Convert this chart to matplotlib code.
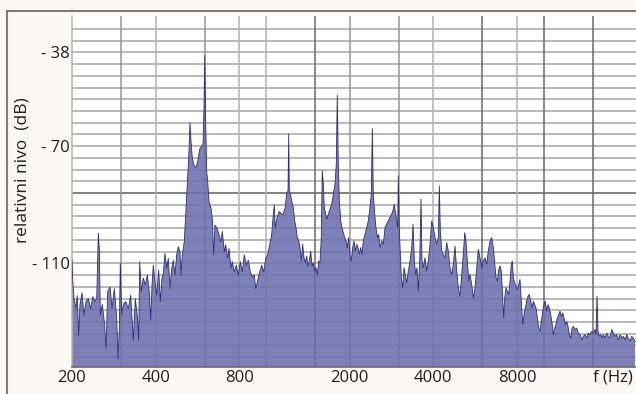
import matplotlib
matplotlib.use("Agg")
import matplotlib.pyplot as plt
from matplotlib.patches import Rectangle

plt.rcParams['font.family'] = ['Open Sans', 'DejaVu Sans']

# ---- data (frequency in Hz, level in dB) ----
freq_low = [200, 201, 203.3, 206.7, 209, 211.4, 213.7, 217.3, 220.9, 224.6, 228.9, 233.6, 237.5,
            241.5, 245.5, 248.8, 250.9, 253, 257.1, 261.5, 265.2, 268.9, 274.1, 278.7, 284.1,
            289.8, 292.9, 296.1, 298.5, 302, 306, 312.2, 319, 325.4, 332.5, 338, 343.7, 347.7,
            350.6, 355.3, 361.2, 367.2, 373.4, 379.6, 384.1, 388.3, 392.5, 398, 403.7, 410.4,
            415.9, 421.8, 426.4, 432.4, 438.5, 444.4, 450.7, 457.1, 463.2, 469.8, 476.4, 482.8,
            489.6]
db_low = [-108.9, -115, -122, -125.4, -121, -134.6, -124, -120, -127.7, -123, -122, -125.4, -121.4,
          -123, -122, -99.7, -105.4, -127.7, -124, -130, -139, -119.7, -118, -125.4, -118.6,
          -128.9, -142.6, -132.3, -110, -127.7, -124, -123, -125.4, -120.9, -136.3, -122, -127.7,
          -136.3, -109.4, -119.7, -115, -117.4, -114, -119.7, -129.4, -117.4, -110.6, -116.3,
          -120.9, -112.3, -123, -115, -113.4, -106.6, -111.7, -108.3, -118.6, -111.7, -108.9,
          -114, -107.1, -104.3, -106]

freq_mid1 = [493.7, 499.1, 507.4, 513.4, 522, 527.6, 532, 536.4, 542.2, 551.3, 559.1, 567.1, 576.6,
             586.2, 592.6, 597.5, 601, 606, 611, 616.1, 622.8, 633.2, 640, 647.5, 654.5, 665.5,
             676.6, 688, 695.4, 707, 715.3, 727.2, 735.2, 747.5, 755.6, 768.2, 781, 794, 807.3,
             820.8, 834.6, 848.5, 862.7, 877.1, 891.8, 906.7, 917.3, 932.6, 948.2, 964.1, 980.2,
             996.6, 1013, 1030, 1047, 1061, 1070, 1079, 1094, 1113, 1131, 1150, 1170]
db_mid1 = [-114, -107.1, -102.6, -93.4, -79.7, -71.7, -62, -68.3, -74, -76.9, -77.4, -75.1, -71.1,
           -70, -69.4, -56.9, -39.1, -62.6, -78.6, -82, -88.9, -91.1, -94.6, -107.1, -96.9, -98,
           -100.3, -102.6, -99.1, -106, -103.7, -108.3, -104.9, -111.7, -109.4, -112.9, -110.6,
           -114, -109.4, -112.9, -107.1, -110.6, -108.9, -112.9, -114.6, -114, -118.6, -115.7,
           -112.9, -110.6, -112.9, -108.3, -107.1, -103.7, -100.3, -93.4, -90, -98, -94.6, -92.3,
           -92.9, -93.4, -91.1]

freq_mid2 = [1186, 1199, 1206, 1212, 1226, 1239, 1253, 1267.5, 1281, 1295, 1310, 1324.5, 1338.7,
             1354, 1369, 1384, 1400, 1415, 1430.6, 1447, 1463, 1479, 1496, 1512, 1529, 1547, 1563,
             1580, 1593, 1607, 1620, 1639, 1657, 1675, 1698, 1723, 1746, 1770, 1789.5, 1804, 1819,
             1834.5, 1856, 1876, 1896, 1918.6, 1939, 1960, 1983, 2005, 2026.5, 2050, 2072, 2095,
             2119, 2142, 2165.5, 2191, 2214.5, 2238.5, 2270, 2302.5, 2333, 2366, 2392, 2412, 2432,
             2460, 2487, 2514, 2543, 2571, 2607, 2642, 2680, 2718, 2754, 2793]
db_mid2 = [-86.3, -85.2, -65.8, -85.2, -86.9, -89.2, -90.9, -95.5, -97.8, -101.2, -102.3, -104.6,
           -109.2, -103.5, -108.1, -109.8, -107.5, -110.9, -109.2, -105.8, -110.9, -109.8, -112.6,
           -111.5, -113.8, -109.2, -109.8, -101.2, -78.3, -82.9, -90.9, -93.2, -94.9, -93.2, -91.5,
           -89.8, -86.3, -82.9, -76, -52.6, -76, -88.6, -95.5, -97.8, -99.5, -101.2, -102.3,
           -104.6, -101.2, -106.9, -109.2, -104.6, -102.3, -105.8, -103.5, -104.6, -106.9, -104.6,
           -106.9, -102.3, -100.1, -97.8, -95.5, -90.9, -86.3, -64, -86.3, -93.2, -97.8, -101.2,
           -100.1, -104.6, -102.3, -103.5, -97.8, -96.6, -95.5, -94.3]

freq_high1 = [2833, 2871, 2894, 2928, 2960, 2977, 2992, 3017, 3042, 3068, 3103, 3137, 3171, 3208,
              3251, 3297, 3344, 3380, 3417, 3457, 3494, 3532, 3573, 3612, 3642, 3681, 3733, 3787,
              3837, 3891, 3947, 4000, 4056, 4114, 4169, 4204, 4239, 4288, 4345, 4407, 4469, 4529,
              4594, 4659, 4721, 4788, 4856, 4921, 4991, 5061, 5129, 5189, 5245, 5302, 5364, 5422,
              5499, 5572, 5652, 5732, 5809, 5891, 5975, 6054, 6140, 6227, 6310, 6400, 6491, 6577]
db_high1 = [-93.2, -91.5, -89.8, -93.2, -96.6, -97.8, -80.1, -97.8, -106.9, -114.9, -118.3, -111.5,
            -113.8, -116.6, -112.6, -109.2, -104.6, -96.6, -109.2, -113.8, -111.5, -119.5, -109.2,
            -88.1, -109.2, -111.5, -108.1, -112.6, -109.2, -103.5, -95.5, -97.8, -101.2, -103.5,
            -101.2, -83.5, -98.9, -105.8, -106.9, -108.1, -102.9, -105.8, -111.5, -113.8, -110.3,
            -104.1, -112.6, -118.3, -121.2, -113.8, -106.9, -99.5, -102.3, -109.2, -116, -113.8,
            -117.2, -121.8, -118.3, -111.5, -105.2, -108.1, -111.5, -109.2, -108.1, -110.3,
            -105.8, -102.3, -101.2, -104.6]

freq_high2 = [6654, 6726, 6799, 6879, 6953, 7028, 7110, 7170, 7230, 7308, 7387, 7473, 7555, 7636,
              7700, 7764, 7855, 7940, 8026, 8120, 8207, 8296, 8393, 8484, 8576, 8676, 8770, 8866,
              8969, 9066, 9164, 9271, 9371, 9474, 9584, 9688, 9792, 9907, 10015, 10123, 10241,
              10352, 10465, 10587, 10701, 10817, 10944, 11062, 11182, 11313, 11436, 11558, 11694,
              11821, 11949, 12088, 12219, 12352, 12495, 12631, 12768, 12950, 13133, 13308, 13498,
              13690, 13871, 14068, 14268, 14459, 14665, 14872, 15071, 15284, 15412, 15541, 15671,
              15839, 16026, 16198, 16373, 16607, 16842, 17067, 17309, 17555, 17789, 18042, 18298,
              18542, 18806, 19072, 19327, 19601, 19880, 20146, 20432, 20721, 20998, 21297]
db_high2 = [-109.8, -114.9, -116.1, -112.1, -110.9, -112.6, -121.8, -128.6, -121.8, -118.3, -119.5,
            -120.6, -116.1, -110.3, -109.2, -114.9, -116.6, -117.8, -118.9, -117.2, -115.5, -122.9,
            -130.9, -127.5, -125.2, -122.9, -121.2, -120.6, -122.9, -125.2, -122.9, -124.1, -125.2,
            -128.6, -132.1, -133.2, -129.8, -126.3, -124.1, -122.9, -126.3, -124.1, -125.2, -127.5,
            -130.3, -134.3, -132.1, -130.9, -128.6, -127.5, -126.3, -128.1, -126.9, -128.6, -130.9,
            -129.8, -131.5, -134.3, -135.5, -132.1, -131.5, -132.6, -132.1, -133.8, -134.3, -136.1,
            -134.9, -134.3, -135.5, -133.8, -134.3, -133.2, -133.8, -132.6, -134.3, -121.2, -133.2,
            -134.9, -134.3, -135.5, -134.3, -135.5, -133.8, -134.9, -135.5, -132.6, -133.8, -134.9,
            -134.3, -136.1, -134.3, -135.5, -134.9, -136.1, -134.3, -135.5, -136.6, -134.9, -135.5,
            -136.6]

x_ticks = [200, 400, 800, 2000, 4000, 8000]
x_tick_labels = ["200", "400", "800", "2000", "4000", "8000"]
y_ticks = [-38, -70, -110]
y_tick_labels = ["- 38", "- 70", "- 110"]
x_grid_light = [400, 800, 1000, 4000, 8000]
x_grid_mid = [300, 600, 2000, 3000]
x_grid_dark = [1500, 6000, 10000, 15000]
y_grid = list(range(-30, -143, -4))
y_grid_dark = [-86]

freq = freq_low + freq_mid1 + freq_mid2 + freq_high1 + freq_high2
db = db_low + db_mid1 + db_mid2 + db_high1 + db_high2

W, H = 636, 394
fig = plt.figure(figsize=(W / 100, H / 100), dpi=100)
fig.patch.set_facecolor('#fcf9f4')

ax = fig.add_axes([72 / W, 27.5 / H, (W - 72) / W, 351 / H])
ax.set_facecolor('white')
ax.set_xscale('log')
ax.set_xlim(200, 21470)
ax.set_ylim(-145.2, -25.4)

for yv in y_grid:
    c = '#5e5e5e' if yv in y_grid_dark else '#a5a5a5'
    ax.axhline(yv, color=c, lw=1.1, zorder=1)
for xv in x_grid_light:
    ax.axvline(xv, color='#b4b4b4', lw=1.1, zorder=1)
for xv in x_grid_mid:
    ax.axvline(xv, color='#969696', lw=1.1, zorder=1)
for xv in x_grid_dark:
    ax.axvline(xv, color='#6a6a6a', lw=1.1, zorder=1)

ax.fill_between(freq, db, -200, color='#6c6eae', alpha=0.88, lw=0, zorder=2)
ax.plot(freq, db, color='#2c2e7c', lw=0.6, zorder=3)

for s in ['top', 'right']:
    ax.spines[s].set_visible(False)
ax.spines['left'].set_color('#b4b4b4')
ax.spines['left'].set_linewidth(1.1)
ax.spines['bottom'].set_color('#6a6a6a')
ax.spines['bottom'].set_linewidth(1.2)
ax.spines['bottom'].set_zorder(4)

ax.minorticks_off()
ax.set_xticks(x_ticks)
ax.set_xticklabels(x_tick_labels)
ax.set_yticks(y_ticks)
ax.set_yticklabels(y_tick_labels)
ax.tick_params(axis='both', length=0, labelsize=12, colors='#1e1e1e')
ax.tick_params(axis='x', pad=2.5)
ax.tick_params(axis='y', pad=1.5)

fig.text(0.995, 1 - 377 / H, 'f (Hz)', ha='right', va='center', fontsize=12, color='#1e1e1e')
fig.text(23 / W, 1 - 170 / H, 'relativni nivo  (dB)', rotation=90, ha='center', va='center',
         fontsize=12.5, color='#1e1e1e')

frame = Rectangle((7 / W, -0.2), 2.0, (1 - 11 / H) + 0.2, transform=fig.transFigure,
                  fill=False, ec='#7c7c7c', lw=1.5)
fig.add_artist(frame)

fig.savefig('out.png', dpi=100, facecolor=fig.get_facecolor())
